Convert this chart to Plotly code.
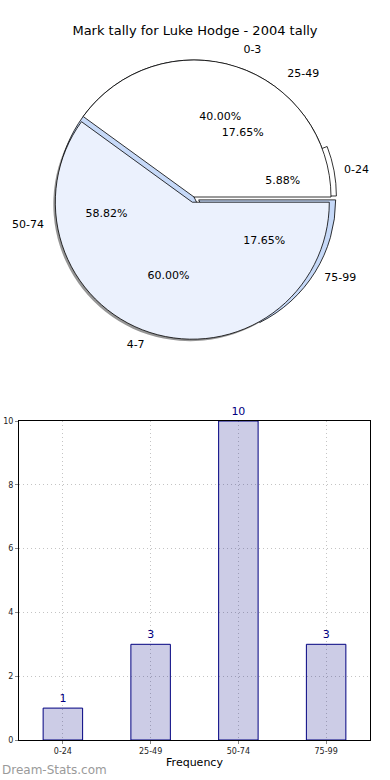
import plotly.graph_objects as go

title_text = "Mark tally for Luke Hodge - 2004 tally"

# pie A (2 groups)
groups_a = ["0-3", "4-7"]
values_a = [40.00, 60.00]

# pie B / bars (4 ranges)
ranges = ["0-24", "25-49", "50-74", "75-99"]
freq = [1, 3, 10, 3]

FONT = "DejaVu Sans"
W, H = 390, 780
cx, cy, R = 194, 197, 137


def dom(radius, dx=0, dy=0):
    x0 = (cx + dx - radius) / W
    x1 = (cx + dx + radius) / W
    yc = (H - (cy + dy)) / H
    return dict(x=[x0, x1], y=[yc - radius / H, yc + radius / H])


PULL = 0.04
common = dict(sort=False, direction="clockwise", rotation=90,
              hoverinfo="skip", showlegend=False)

# drawn clockwise from 3 o'clock, so feed reversed order (counter-clockwise look)
la, va = groups_a[::-1], values_a[::-1]
lb, vb = ranges[::-1], freq[::-1]
pull_a = [PULL, 0]
pull_b = [PULL, 0, 0, PULL]
NONE = "rgba(0,0,0,0)"
PCT = "%{percent:.2%}"
tfont = dict(family=FONT, size=11, color="black")

fig = go.Figure()

# shadow of the big slice
fig.add_trace(go.Pie(labels=la, values=va, **common,
                     marker=dict(colors=["rgba(80,80,80,0.6)", NONE],
                                 line=dict(width=0)),
                     pull=pull_a, textinfo="none",
                     domain=dom(R * (1 + PULL), -2, 2)))

# pie B (4 ranges) underneath
fig.add_trace(go.Pie(labels=lb, values=vb, **common,
                     marker=dict(colors=["#c6d9f8", "#c6d9f8", "white", "white"],
                                 line=dict(color="black", width=0.8)),
                     pull=pull_b, textinfo="none",
                     domain=dom(R * (1 + PULL))))

# pie A on top
fig.add_trace(go.Pie(labels=la, values=va, **common,
                     marker=dict(colors=["#ebf1fd", "white"],
                                 line=dict(color="black", width=0.8)),
                     pull=pull_a, textinfo="none",
                     domain=dom(R * (1 + PULL))))


# percentage texts: transparent copies, radius chosen so text sits ~0.6 R
def pct_trace(labs, vals, show, scale):
    return go.Pie(labels=labs, values=vals, **common,
                  texttemplate=[PCT if s else "" for s in show],
                  textposition="inside", insidetextorientation="horizontal",
                  textfont=tfont,
                  marker=dict(colors=[NONE] * len(labs), line=dict(width=0)),
                  domain=dom(R * scale))


# order in lb: 75-99, 50-74, 25-49, 0-24
fig.add_trace(pct_trace(lb, vb, [1, 0, 0, 0], 0.92))
fig.add_trace(pct_trace(lb, vb, [0, 0, 1, 0], 0.90))
fig.add_trace(pct_trace(lb, vb, [0, 1, 0, 0], 1.30))
fig.add_trace(pct_trace(lb, vb, [0, 0, 0, 1], 0.78))
fig.add_trace(pct_trace(la, va, [1, 1], 1.21))

# outside labels (transparent copies)
for labs, vals in [(lb, vb), (la, va)]:
    fig.add_trace(go.Pie(labels=labs, values=vals, **common,
                         marker=dict(colors=[NONE] * len(labs),
                                     line=dict(width=0)),
                         textinfo="label", textposition="outside",
                         textfont=tfont,
                         domain=dom(R * 1.09)))

# bar chart
fig.add_trace(go.Bar(x=ranges, y=freq, width=0.45, showlegend=False,
                     marker=dict(color="rgba(0,0,128,0.2)",
                                 line=dict(color="#000080", width=1)),
                     text=[str(v) for v in freq], textposition="outside",
                     textfont=dict(family=FONT, size=11, color="#000080"),
                     cliponaxis=False, hoverinfo="skip"))

grid = dict(showgrid=True, gridcolor="#c4c4c4", griddash="1px,3px", gridwidth=1,
            showline=True, linecolor="black", linewidth=1, mirror=True,
            ticks="outside", ticklen=3, tickcolor="#888888", zeroline=False)

fig.update_layout(
    width=W, height=H,
    margin=dict(l=0, r=0, t=0, b=0, autoexpand=False),
    paper_bgcolor="white", plot_bgcolor="white",
    font=dict(family=FONT, size=11, color="black"),
    uniformtext=dict(minsize=11, mode="show"),
    title=dict(text=title_text, x=0.5, xanchor="center",
               y=1 - 30 / H, yanchor="middle",
               font=dict(family=FONT, size=13, color="black")),
    xaxis=dict(domain=[19 / W, 370 / W], range=[-0.5, 3.5],
               type="category", tickfont=dict(size=8, color="#222222"),
               title=dict(text="Frequency", standoff=3, font=dict(size=11)),
               **grid),
    yaxis=dict(domain=[(H - 740) / H, (H - 421) / H],
               range=[0, 10], dtick=2, tickfont=dict(size=8, color="#222222"),
               **grid),
    annotations=[dict(text="Dream-Stats.com", xref="paper", yref="paper",
                      x=0, y=(H - 770) / H, xanchor="left",
                      yanchor="middle", showarrow=False,
                      font=dict(family=FONT, size=12, color="#9a9a9a"))],
)

fig.write_html("out.html",
               config={"displayModeBar": False},
               post_script="document.body.style.margin='0';")
